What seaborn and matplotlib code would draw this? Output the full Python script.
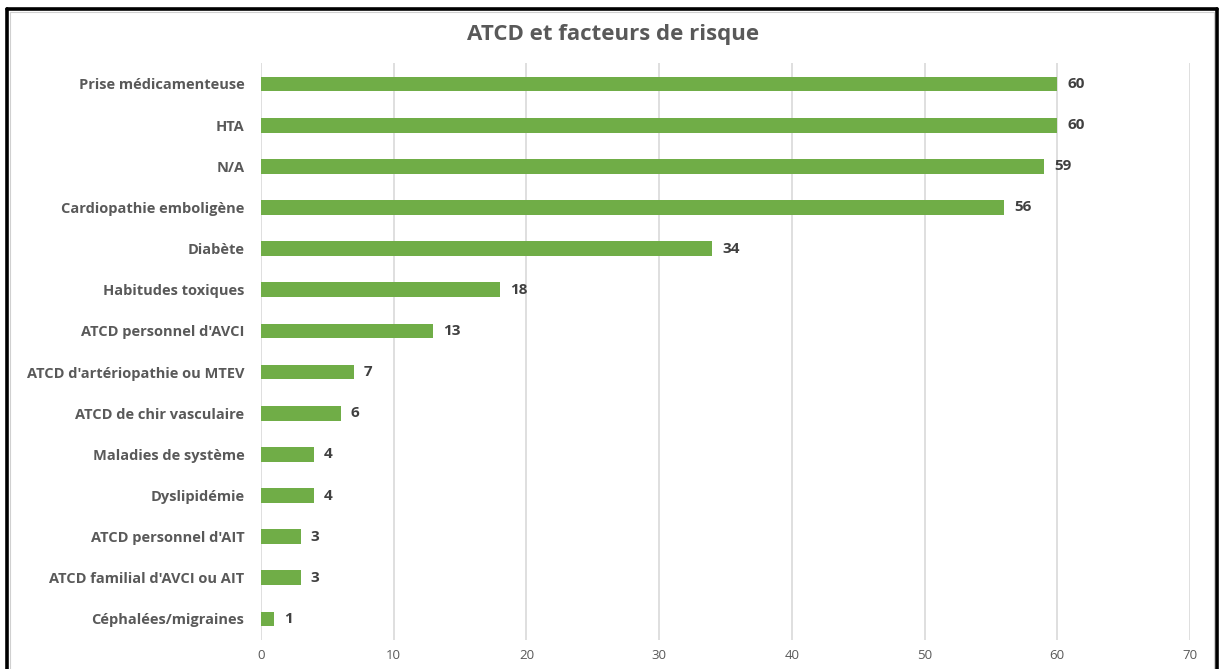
import matplotlib
matplotlib.use("Agg")
import matplotlib.pyplot as plt
from matplotlib.lines import Line2D
import seaborn as sns
import pandas as pd

categories = [
    "Prise médicamenteuse",
    "HTA",
    "N/A",
    "Cardiopathie emboligène",
    "Diabète",
    "Habitudes toxiques",
    "ATCD personnel d'AVCI",
    "ATCD d'artériopathie ou MTEV",
    "ATCD de chir vasculaire",
    "Maladies de système",
    "Dyslipidémie",
    "ATCD personnel d'AIT",
    "ATCD familial d'AVCI ou AIT",
    "Céphalées/migraines",
]
values = [60, 60, 59, 56, 34, 18, 13, 7, 6, 4, 4, 3, 3, 1]
x_ticks = [0, 10, 20, 30, 40, 50, 60, 70]

df = pd.DataFrame({"cat": categories, "val": values})

sns.set_theme(style="white")
plt.rcParams["font.family"] = ["Open Sans", "DejaVu Sans"]

fig = plt.figure(figsize=(12.2, 6.69), dpi=100)
ax = fig.add_axes([0.2139, 0.044, 0.9754 - 0.2139, 0.9052 - 0.044])

sns.barplot(data=df, x="val", y="cat", orient="h", color="#70AD47",
            saturation=1, width=0.36, linewidth=0, ax=ax, zorder=3)

ax.set_xlim(0, 70)
ax.set_ylim(len(categories) - 0.5, -0.5)
ax.set_xticks(x_ticks)
ax.set_xticklabels([str(t) for t in x_ticks], color="#595959", fontsize=9.5)
ax.tick_params(axis="x", length=0, pad=7)
ax.tick_params(axis="y", length=0, pad=12)
for lab in ax.get_yticklabels():
    lab.set_fontweight("bold")
    lab.set_color("#595959")
    lab.set_fontsize(10.5)
ax.set_xlabel("")
ax.set_ylabel("")
ax.grid(axis="x", color="#D9D9D9", linewidth=1.2, zorder=0)
for s in ax.spines.values():
    s.set_visible(False)

for i, v in enumerate(values):
    ax.text(v + 0.75, i, str(v), va="center", ha="left", fontsize=11,
            fontweight="bold", color="#404040")

fig.text(0.5025, 0.949, "ATCD et facteurs de risque", ha="center", va="center",
         fontsize=16, fontweight="bold", color="#595959")

# frame around the chart
W, H = 1220, 669
def fx(px):
    return px / W
def fy(py):
    return 1 - py / H
fig.add_artist(Line2D([fx(7), fx(1217)], [fy(9), fy(9)], color="black", lw=2.6))
fig.add_artist(Line2D([fx(7), fx(7)], [fy(9), fy(669)], color="black", lw=2.6))
fig.add_artist(Line2D([fx(1217), fx(1217)], [fy(9), fy(669)], color="black", lw=2.6))
fig.add_artist(Line2D([fx(10), fx(1214)], [fy(11.5), fy(11.5)], color="#D0D0D0", lw=0.8))
fig.add_artist(Line2D([fx(10), fx(10)], [fy(11.5), fy(669)], color="#D0D0D0", lw=0.8))
fig.add_artist(Line2D([fx(1214), fx(1214)], [fy(11.5), fy(669)], color="#D0D0D0", lw=0.8))

fig.savefig("out.png", dpi=100, facecolor="white")
